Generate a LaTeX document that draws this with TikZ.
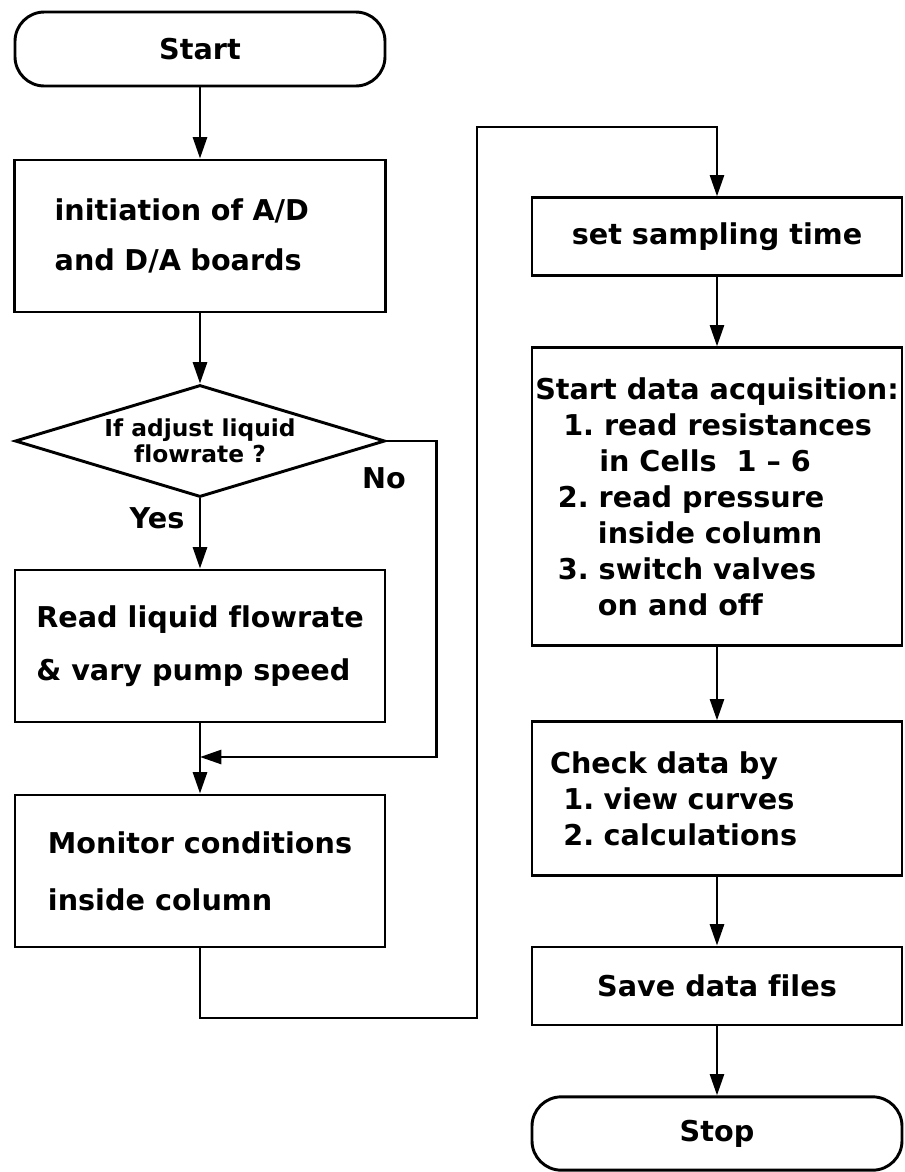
\documentclass[tikz,border=0pt]{standalone}
\usepackage{fontspec}
\setmainfont[Ligatures={TeX,NoCommon}]{DejaVu Sans}
\usepackage{tikz}
\usetikzlibrary{arrows.meta,positioning,shapes.geometric}

\newcommand{\chartfont}{\frenchspacing\bfseries\fontsize{21.5}{27}\selectfont}
\newcommand{\askfont}{\frenchspacing\bfseries\fontsize{17.5}{19.5}\selectfont}

\begin{document}
\begin{tikzpicture}[x=0.75pt, y=-0.75pt,
  procbox/.style={draw, line width=2.2pt, minimum width=277.5pt, inner sep=0pt, align=left, font=\chartfont},
  termbox/.style={procbox, rounded corners=22pt},
  decision/.style={draw, diamond, aspect=3.3, line width=2.2pt, minimum width=277.5pt, minimum height=84pt, inner sep=0pt, align=center, font=\askfont},
  flowline/.style={line width=2pt, -{Triangle[length=16pt, width=10.5pt]}},
  lbl/.style={font=\chartfont, inner sep=0pt}]
\useasboundingbox (0,0) rectangle (905,1172);

% Left column
\node[termbox, minimum height=55.5pt] (start) at (200,49) {Start};
\node[procbox, minimum height=114pt, text width=218pt, inner xsep=30pt] (init) at (200,236)
  {initiation of A/D\\[10.5pt]and D/A boards};
\node[decision] (adjust) at (200,441) {If adjust liquid\\flowrate ?};
\node[procbox, minimum height=114pt] (readflow) at (200,646)
  {Read liquid flowrate\\[13pt]\& vary pump speed};
\node[procbox, minimum height=114pt] (monitor) at (200,871)
  {Monitor conditions\\[16pt]inside column};

\node[lbl] (yeslbl) at (157,518) {Yes};
\node[lbl] (nolbl) at (384,478) {No};

% Right column
\node[procbox, minimum height=58pt] (setsample) at (717,236.5) {set sampling time};
\node[procbox, minimum height=223pt] (acquire) at (717,496.5)
  {Start data acquisition:\\
   \hspace*{21pt}1. read resistances\\
   \hspace*{48pt}in Cells\ \ 1 \textendash\ 6\\
   \hspace*{17pt}2. read pressure\\
   \hspace*{47pt}inside column\\
   \hspace*{17pt}3. switch valves\\
   \hspace*{47pt}on and off};
\node[procbox, minimum height=115pt, text width=250.5pt, inner xsep=13.5pt] (checkdata) at (717,798.5)
  {Check data by\\
   \hspace*{10pt}1. view curves\\
   \hspace*{10pt}2. calculations};
\node[procbox, minimum height=58.5pt] (savefiles) at (717,986) {Save data files};
\node[termbox, minimum height=55pt] (stop) at (717,1133.5) {Stop};

% Bend points
\coordinate (merge) at (200,757);
\coordinate (loopbot) at (200,1018);
\coordinate (looptop) at (477,127);

% Connectors
\draw[flowline] (start) -- (init);
\draw[flowline] (init) -- (adjust);
\draw[flowline] (adjust) -- (readflow);
\draw[flowline] (adjust.east) -- ++(50,0) |- (merge);
\draw[flowline] (readflow) -- (monitor);
\draw[flowline] (monitor) -- (loopbot) -| (looptop) -| (setsample);
\draw[flowline] (setsample) -- (acquire);
\draw[flowline] (acquire) -- (checkdata);
\draw[flowline] (checkdata) -- (savefiles);
\draw[flowline] (savefiles) -- (stop);
\end{tikzpicture}
\end{document}
